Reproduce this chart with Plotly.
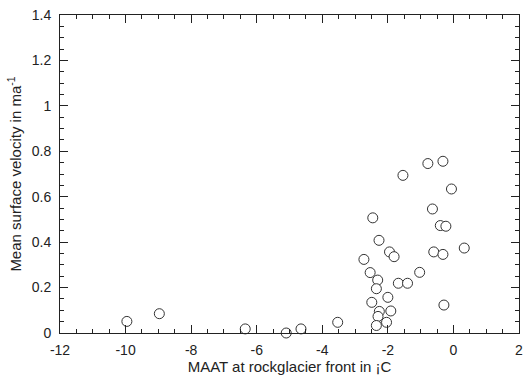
import plotly.graph_objects as go

maat = [-0.32, -0.78, -1.54, -0.06, -0.64, -2.46, -0.40, -0.23, -2.27, 0.33,
        -1.95, -0.60, -0.32, -1.81, -2.73, -1.03, -2.54, -2.31, -1.68, -1.40,
        -2.35, -2.00, -2.49, -0.29, -2.26, -1.91, -2.30, -2.04, -2.35,
        -9.96, -8.97, -6.35, -5.10, -4.65, -3.53]
velocity = [0.756, 0.746, 0.694, 0.634, 0.546, 0.507, 0.473, 0.470, 0.408, 0.374,
            0.357, 0.357, 0.346, 0.336, 0.324, 0.267, 0.266, 0.233, 0.219, 0.219,
            0.195, 0.157, 0.135, 0.123, 0.095, 0.097, 0.073, 0.047, 0.033,
            0.051, 0.085, 0.018, 0.0, 0.018, 0.047]

x_ticks = [-12, -10, -8, -6, -4, -2, 0, 2]
y_ticks = [0, 0.2, 0.4, 0.6, 0.8, 1, 1.2, 1.4]
y_ticklabels = ["0", "0.2", "0.4", "0.6", "0.8", "1", "1.2", "1.4"]

font = "Liberation Sans, Arial, Helvetica, sans-serif"

fig = go.Figure(go.Scatter(
    x=maat, y=velocity, mode="markers",
    marker=dict(symbol="circle", size=10, color="white",
                line=dict(color="#333333", width=1)),
    cliponaxis=False, showlegend=False,
))

axis_common = dict(
    showgrid=False, zeroline=False, showline=True, linecolor="#222222", linewidth=1,
    mirror="allticks", ticks="inside", ticklen=8, tickwidth=1, tickcolor="#222222",
    tickfont=dict(family=font, size=14, color="#222222"),
    ticklabeloverflow="allow",
)

fig.update_xaxes(
    range=[-12, 2], tickvals=x_ticks, ticktext=[str(v) for v in x_ticks],
    ticklabelstandoff=4,
    minor=dict(dtick=0.5, ticks="inside", ticklen=4, tickwidth=1, tickcolor="#222222", showgrid=False),
    title=dict(text="MAAT at rockglacier front in ¡C", font=dict(family=font, size=15, color="#222222"), standoff=4),
    **axis_common,
)
fig.update_yaxes(
    range=[0, 1.4], tickvals=y_ticks, ticktext=y_ticklabels,
    ticklabelstandoff=5,
    minor=dict(dtick=0.05, ticks="inside", ticklen=4, tickwidth=1, tickcolor="#222222", showgrid=False),
    title=dict(text="Mean surface velocity in ma<sup>-1</sup>", font=dict(family=font, size=15, color="#222222"), standoff=6),
    **axis_common,
)

fig.update_layout(
    width=527, height=377,
    margin=dict(l=60, r=4, t=15, b=44),
    plot_bgcolor="white", paper_bgcolor="white",
)

fig.write_html("out.html")
